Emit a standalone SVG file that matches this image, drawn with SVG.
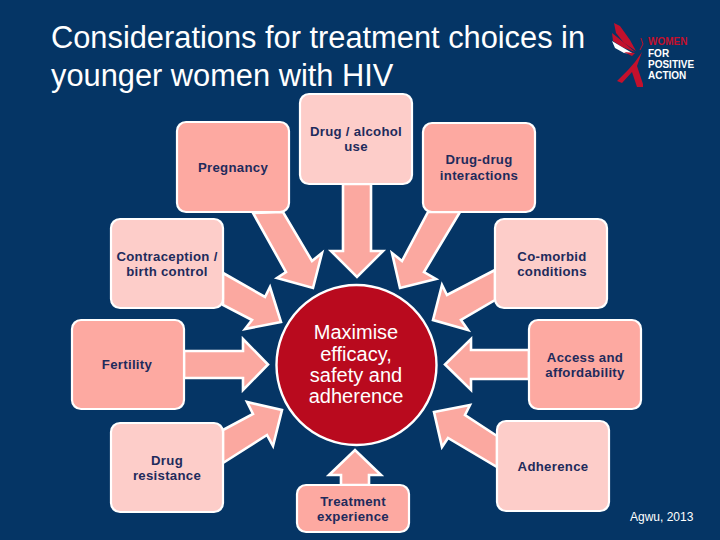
<svg xmlns="http://www.w3.org/2000/svg" width="720" height="540" viewBox="0 0 720 540">
<style>
.bg{fill:#053565}
.box{stroke:#fff;stroke-width:2.2}
.dark{fill:#fda9a1}
.light{fill:#fdcdc9}
.arrow{fill:#fba8a0;stroke:#fff;stroke-width:2.6;stroke-linejoin:miter}
text{font-family:"Liberation Sans",Arial,sans-serif}
.label{font-size:13.200px;font-weight:bold;fill:#1f2b5c;text-anchor:middle;letter-spacing:.3px}
.title{font-size:30.800px;fill:#fff}
.centre{font-size:20px;fill:#fff;text-anchor:middle}
.logo{font-size:10px;font-weight:bold;fill:#fff}
</style>
<rect class="bg" width="720" height="540"/>
<text class="title" x="51" y="48">Considerations for treatment choices in</text>
<text class="title" x="51" y="86">younger women with HIV</text>
<g id="logo">
<path fill="#c3102c" d="M614 23L620 26L630 40L636 51L624 43L616 33Z"/>
<path fill="#c3102c" d="M612 33L622 41L635 52L622 47L613 41Z"/>
<path fill="#fff" d="M612 41L622 47L634 54L624 53L615 48Z"/>
<path fill="#c3102c" d="M624 52L635 53L632 56Z"/>
<path fill="#c3102c" d="M642 52L637 66L643 84L643 87L637 87L632 72L622 83L617 81L628 70L635 62Z"/>
<path fill="none" stroke="#c3102c" d="M641 38L643 44L640 50"/>
<text class="logo" x="648" y="45" style="fill:#c3102c">WOMEN</text>
<text class="logo" x="648" y="57">FOR</text>
<text class="logo" x="648" y="68">POSITIVE</text>
<text class="logo" x="648" y="79">ACTION</text>
</g>
<g id="connectors">
<polygon class="arrow" points="253,213 283,212 312,261 322,253 313,288 277,278 286,272"/>
<polygon class="arrow" points="343,184 371,184 371,251 383,251 357,277 331,251 343,251"/>
<polygon class="arrow" points="428,212 460,212 424,272 436,279 400,288 392,253 402,261"/>
<polygon class="arrow" points="223,273 265,297 270,287 281,322 245,329 252,320 223,305"/>
<polygon class="arrow" points="495,270 447,295 442,285 433,320 468,330 461,320 495,300"/>
<polygon class="arrow" points="184,351 243,351 243,339 268,364.500 243,390 243,378 184,378"/>
<polygon class="arrow" points="529,350 471,350 471,339 445,364.500 471,390 471,379 529,379"/>
<polygon class="arrow" points="223,430 253,414 247,402 282,410 273,446 267,435 223,463"/>
<polygon class="arrow" points="497,436 465,415 470,405 434,412 442,447 448,438 497,467"/>
<polygon class="arrow" points="341,485 341,475 329,475 355,450 381,475 369,475 369,485"/>
</g>
<g id="pregnancy"><rect class="box dark" x="177" y="122" width="112" height="90" rx="9"/><text class="label" x="233" y="172">Pregnancy</text></g>
<g id="drug-alcohol"><rect class="box light" x="300" y="94" width="112" height="90" rx="9"/><text class="label" x="356" y="136">Drug / alcohol</text><text class="label" x="356" y="151">use</text></g>
<g id="drug-drug"><rect class="box dark" x="423" y="123" width="112" height="89" rx="9"/><text class="label" x="479" y="164">Drug-drug</text><text class="label" x="479" y="180">interactions</text></g>
<g id="comorbid"><rect class="box light" x="495" y="219" width="112" height="89" rx="9"/><text class="label" x="552" y="261">Co-morbid</text><text class="label" x="552" y="276">conditions</text></g>
<g id="contraception"><rect class="box light" x="111" y="219" width="112" height="89" rx="9"/><text class="label" x="167" y="261">Contraception /</text><text class="label" x="167" y="276">birth control</text></g>
<g id="fertility"><rect class="box dark" x="72" y="320" width="112" height="89" rx="9"/><text class="label" x="127" y="369">Fertility</text></g>
<g id="access"><rect class="box dark" x="529" y="320" width="112" height="89" rx="9"/><text class="label" x="585" y="362">Access and</text><text class="label" x="585" y="377">affordability</text></g>
<g id="resistance"><rect class="box light" x="111" y="423" width="112" height="89" rx="9"/><text class="label" x="167" y="465">Drug</text><text class="label" x="167" y="480">resistance</text></g>
<g id="adherence"><rect class="box light" x="497" y="421" width="112" height="90" rx="9"/><text class="label" x="553" y="471">Adherence</text></g>
<g id="treatment"><rect class="box dark" x="297" y="485" width="112" height="47" rx="9"/><text class="label" x="353" y="506">Treatment</text><text class="label" x="353" y="521">experience</text></g>
<g id="centre"><circle cx="356.500" cy="365" r="80" fill="#b90a1e" stroke="#fff" stroke-width="2.400"/>
<text class="centre" x="356" y="339">Maximise</text><text class="centre" x="356" y="361">efficacy,</text><text class="centre" x="356" y="382">safety and</text><text class="centre" x="356" y="403">adherence</text></g>
<text x="630" y="521" font-size="12" fill="#fff">Agwu, 2013</text>
</svg>
